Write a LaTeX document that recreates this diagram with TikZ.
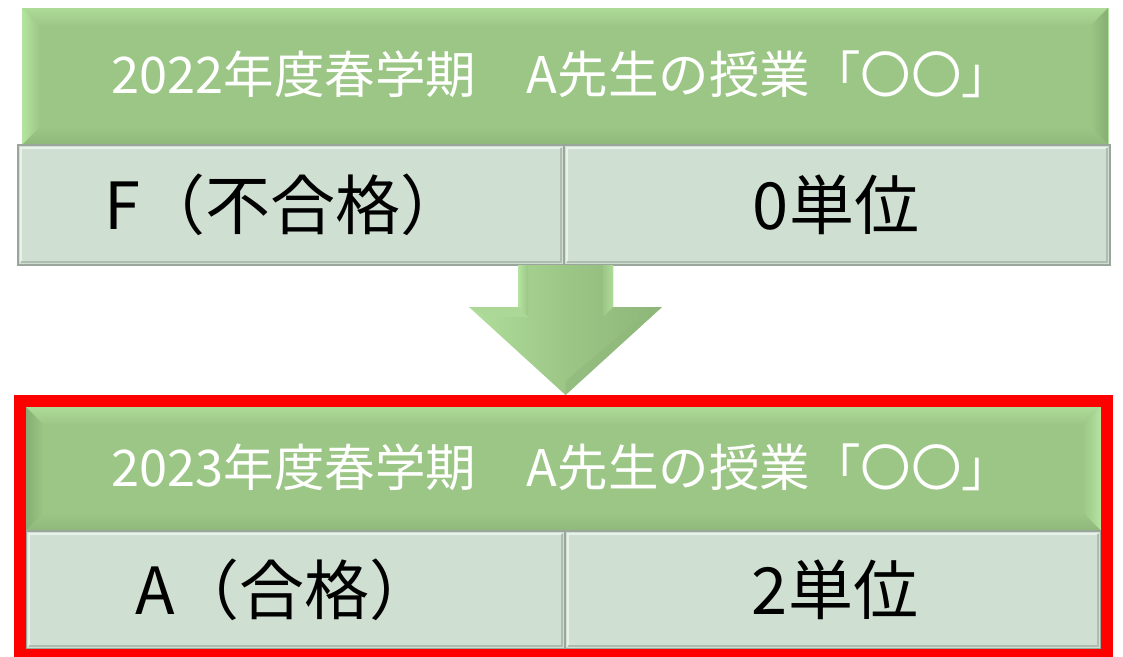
\documentclass[tikz,border=0pt]{standalone}
\usepackage{fontspec}
\setmainfont{Noto Sans CJK JP}
\usetikzlibrary{calc}
\definecolor{hdrgreen}{HTML}{9CC686}
\definecolor{hdrlight}{HTML}{B5E4A0}
\definecolor{hdrdark}{HTML}{86AE73}
\definecolor{cellfill}{HTML}{CFDFD2}
\definecolor{cellline}{HTML}{9AA59B}
\definecolor{framered}{HTML}{FF0000}
\newcommand\hdrbevel[4]{%
  % #1 node, #2 bevel width, #3 left face colour, #4 right face colour
  \shade[top color=hdrlight!70!hdrgreen, bottom color=hdrgreen]
    (#1.north west) -- (#1.north east) -- ($(#1.north east)+(-#2,#2)$) -- ($(#1.north west)+(#2,#2)$) -- cycle;
  \shade[left color=#3, right color=hdrgreen]
    (#1.north west) -- ($(#1.north west)+(#2,#2)$) -- ($(#1.south west)+(#2,-#2)$) -- (#1.south west) -- cycle;
  \shade[left color=hdrgreen, right color=#4]
    (#1.north east) -- ($(#1.north east)+(-#2,#2)$) -- ($(#1.south east)+(-#2,-#2)$) -- (#1.south east) -- cycle;
  \shade[top color=hdrgreen, bottom color=hdrdark!60!hdrgreen]
    (#1.south west) -- ($(#1.south west)+(#2,-#2)$) -- ($(#1.south east)+(-#2,-#2)$) -- (#1.south east) -- cycle;
}
\newcommand\cellbevel[1]{%
  \draw[white!55!cellfill, line width=2pt]
    ($(#1.south west)+(3,-3)$) -- ($(#1.north west)+(3,3)$) -- ($(#1.north east)+(-3,3)$);
  \draw[cellline!60!cellfill, line width=1.5pt]
    ($(#1.north east)+(-3,3)$) -- ($(#1.south east)+(-3,-3)$) -- ($(#1.south west)+(3,-3)$);
}
\begin{document}
\begin{tikzpicture}[x=1pt,y=-1pt,
  hdr/.style={rectangle, fill=hdrgreen, inner sep=0pt, outer sep=0pt},
  hdrtext/.style={text=white, font=\fontsize{50.5}{55}\selectfont, inner sep=0pt},
  cell/.style={rectangle, fill=cellfill, draw=cellline, line width=1.2pt, inner sep=0pt, outer sep=0pt},
  celltext/.style={text=black, font=\fontsize{65}{70}\selectfont, inner sep=0pt},
  redframe/.style={rectangle, draw=framered, line width=12pt, inner sep=0pt, outer sep=0pt},
  arrowfill/.style={left color=hdrlight!80!hdrgreen, right color=hdrdark!70!hdrgreen, middle color=hdrgreen},
]
\useasboundingbox (0,0) rectangle (1123,656);
\fill[white] (0,0) rectangle (1123,656);

% ---------- top block ----------
\node[hdr, minimum width=1086pt, minimum height=137pt] (h1) at (565,76.5) {};
\hdrbevel{h1}{18}{hdrlight}{hdrdark}
\draw[hdrlight, line width=1pt] (h1.north east) -- (h1.south east);
\node[hdrtext] (h1t) at (562,74) {2022年度春学期　A先生の授業「〇〇」};

\node[cell, minimum width=546pt, minimum height=120pt] (c1l) at (291,205) {};
\node[cell, minimum width=546pt, minimum height=120pt] (c1r) at (837,205) {};
\cellbevel{c1l}
\cellbevel{c1r}
\node[celltext] (c1lt) at (285,205) {F（不合格）};
\node[celltext] (c1rt) at (836,205) {0単位};

% ---------- arrow ----------
\coordinate (atop) at (565.5,265);
\coordinate (atip) at (565.5,395);
\shade[arrowfill]
  ($(atop)+(-47.5,0)$) -- ($(atop)+(47.5,0)$) -- ($(atop)+(47.5,42)$) -- ($(atop)+(96.5,42)$)
  -- (atip) -- ($(atop)+(-96.5,42)$) -- ($(atop)+(-47.5,42)$) -- cycle;
\shade[left color=hdrlight, right color=hdrgreen]
  ($(atop)+(-47.5,0)$) -- ($(atop)+(-37.5,0)$) -- ($(atop)+(-37.5,52)$) -- ($(atop)+(-47.5,42)$) -- cycle;
\fill[hdrlight!60!hdrgreen]
  ($(atop)+(-96.5,42)$) -- ($(atop)+(-47.5,42)$) -- ($(atop)+(-37.5,52)$) -- ($(atop)+(-76,52)$) -- cycle;
\fill[hdrdark!60!hdrgreen, opacity=0.6]
  ($(atop)+(96.5,42)$) -- ($(atop)+(76,52)$) -- ($(atip)+(0,-14)$) -- (atip) -- cycle;
\shade[left color=hdrgreen, right color=hdrlight!70!hdrgreen]
  ($(atop)+(47.5,0)$) -- ($(atop)+(37.5,0)$) -- ($(atop)+(37.5,52)$) -- ($(atop)+(47.5,42)$) -- cycle;

% ---------- bottom block ----------
\node[hdr, minimum width=1075pt, minimum height=124pt] (h2) at (563.5,469) {};
\hdrbevel{h2}{18}{hdrdark}{hdrlight}
\node[hdrtext] (h2t) at (562,467) {2023年度春学期　A先生の授業「〇〇」};

\node[cell, minimum width=539pt, minimum height=118pt] (c2l) at (295.5,590) {};
\node[cell, minimum width=536pt, minimum height=118pt] (c2r) at (833,590) {};
\cellbevel{c2l}
\cellbevel{c2r}
\node[celltext] (c2lt) at (285,590) {A（合格）};
\node[celltext] (c2rt) at (835,590) {2単位};

\node[redframe, minimum width=1087pt, minimum height=254pt] (frame) at (563.5,528) {};
\end{tikzpicture}
\end{document}
